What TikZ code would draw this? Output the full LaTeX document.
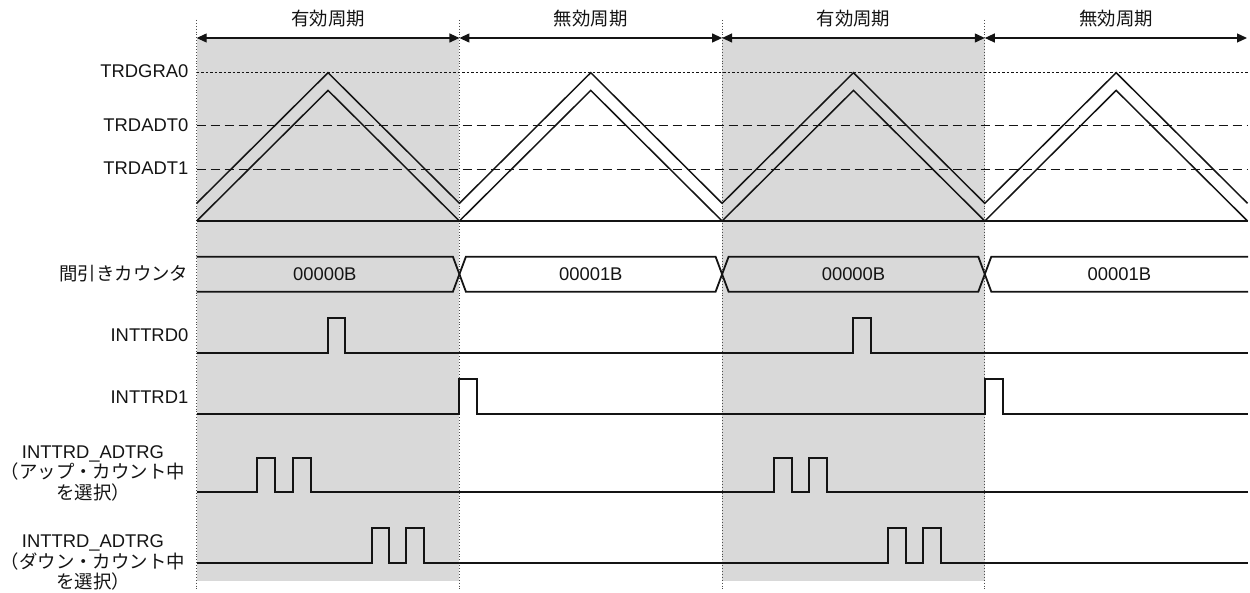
\documentclass[tikz,border=0pt]{standalone}
\usepackage{fontspec}
\setmainfont{Liberation Sans}
\newfontfamily\cjk{Noto Sans CJK JP}
\usetikzlibrary{arrows.meta}
\definecolor{bgshade}{RGB}{217,217,217}
\definecolor{ink}{RGB}{20,20,20}
\setlength{\lineskiplimit}{-20pt}
\begin{document}
\begin{tikzpicture}[x=1pt,y=-1pt,
  txt/.style={font=\fontsize{18.4}{20.5}\selectfont, inner sep=0pt, text=ink},
  rlbl/.style={txt, anchor=east},
  sig/.style={draw=ink, line width=2pt, line join=miter},
  tri/.style={draw=ink, line width=1.5pt, line join=miter},
  bus/.style={draw=ink, line width=1.8pt, line join=miter},
  vgrid/.style={draw=black!70, line width=0.9pt, dotted},
  fine/.style={draw=ink, line width=0.9pt, dash pattern=on 2.5pt off 2pt},
  coarse/.style={draw=ink, line width=1.2pt, dash pattern=on 9pt off 5pt},
  dim/.style={draw=ink, line width=1.2pt, {Triangle[length=10pt,width=9pt]}-{Triangle[length=10pt,width=9pt]}}]
\useasboundingbox (0,0) rectangle (1250,593);
% shaded valid periods
\fill[bgshade] (196.7,38) rectangle (459.4,581);
\fill[bgshade] (722.1,38) rectangle (984.8,581);
% period boundaries
\foreach \x in {196.7,459.4,722.1,984.8}
  \draw[vgrid] (\x,20) -- (\x,590);
% period arrows and labels
\coordinate (b0) at (196.7,38);
\coordinate (b1) at (459.4,38);
\coordinate (b2) at (722.1,38);
\coordinate (b3) at (984.8,38);
\coordinate (b4) at (1247,38);
\draw[dim] (b0) -- (b1);
\draw[dim] (b1) -- (b2);
\draw[dim] (b2) -- (b3);
\draw[dim] (b3) -- (b4);
\node[txt] (p1) at (328.05,19) {\cjk 有効周期};
\node[txt] (p2) at (590.75,19) {\cjk 無効周期};
\node[txt] (p3) at (853.45,19) {\cjk 有効周期};
\node[txt] (p4) at (1116.15,19) {\cjk 無効周期};
% reference levels
\draw[fine] (196.7,72.7) -- (1248,72.7);
\draw[coarse] (196.7,125.7) -- (1248,125.7);
\draw[coarse] (196.7,169.3) -- (1248,169.3);
\draw[ink, line width=1.5pt] (196.7,221) -- (1248,221);
\node[rlbl] (lgra) at (188.5,71) {TRDGRA0};
\node[rlbl] (ladt0) at (188.5,125) {TRDADT0};
\node[rlbl] (ladt1) at (188.5,168.3) {TRDADT1};
% triangle waves
\draw[tri] (196.7,203.3) -- (328.05,72.7) -- (459.4,203.3) -- (590.75,72.7) -- (722.1,203.3)
  -- (853.45,72.7) -- (984.8,203.3) -- (1116.15,72.7) -- (1247.5,203.3);
\draw[tri] (196.7,221) -- (328.05,90.4) -- (459.4,221) -- (590.75,90.4) -- (722.1,221)
  -- (853.45,90.4) -- (984.8,221) -- (1116.15,90.4) -- (1247.5,221);
% thinning counter bus
\draw[bus] (196.7,256.7) -- (452.9,256.7) -- (465.9,291.7) -- (715.6,291.7) -- (728.6,256.7)
  -- (978.3,256.7) -- (991.3,291.7) -- (1248,291.7);
\draw[bus] (196.7,291.7) -- (452.9,291.7) -- (465.9,256.7) -- (715.6,256.7) -- (728.6,291.7)
  -- (978.3,291.7) -- (991.3,256.7) -- (1248,256.7);
\node[txt] (v1) at (324.8,274.2) {00000B};
\node[txt] (v2) at (590.8,274.2) {00001B};
\node[txt] (v3) at (853.5,274.2) {00000B};
\node[txt] (v4) at (1119.4,274.2) {00001B};
\node[rlbl] (lcnt) at (188.5,273.5) {\cjk 間引きカウンタ};
% INTTRD0
\draw[sig] (196.7,352.7) -- (327.7,352.7) -- (327.7,317.7) -- (345.2,317.7) -- (345.2,352.7)
  -- (853.3,352.7) -- (853.3,317.7) -- (870.8,317.7) -- (870.8,352.7) -- (1248,352.7);
\node[rlbl] (l0) at (188.5,335) {INTTRD0};
% INTTRD1
\draw[sig] (196.7,414) -- (459.4,414) -- (459.4,379.3) -- (476.9,379.3) -- (476.9,414)
  -- (984.8,414) -- (984.8,379.3) -- (1002.5,379.3) -- (1002.5,414) -- (1248,414);
\node[rlbl] (l1) at (188.5,396.7) {INTTRD1};
% INTTRD_ADTRG (up count)
\draw[sig] (196.7,491.7) -- (256.7,491.7) -- (256.7,458.3) -- (275.3,458.3) -- (275.3,491.7)
  -- (292.7,491.7) -- (292.7,458.3) -- (310.7,458.3) -- (310.7,491.7)
  -- (774.3,491.7) -- (774.3,458.3) -- (792.3,458.3) -- (792.3,491.7)
  -- (809.3,491.7) -- (809.3,458.3) -- (827.3,458.3) -- (827.3,491.7) -- (1248,491.7);
\node[txt, align=center] (lup) at (93,473) {INTTRD\_ADTRG\\{\cjk （アップ・カウント中}\\{\cjk を選択）}};
% INTTRD_ADTRG (down count)
\draw[sig] (196.7,563.3) -- (371.7,563.3) -- (371.7,527.7) -- (389,527.7) -- (389,563.3)
  -- (406,563.3) -- (406,527.7) -- (424,527.7) -- (424,563.3)
  -- (888.3,563.3) -- (888.3,527.7) -- (906,527.7) -- (906,563.3)
  -- (923.3,563.3) -- (923.3,527.7) -- (941.3,527.7) -- (941.3,563.3) -- (1248,563.3);
\node[txt, align=center] (ldn) at (93,562.5) {INTTRD\_ADTRG\\{\cjk （ダウン・カウント中}\\{\cjk を選択）}};
\end{tikzpicture}
\end{document}
